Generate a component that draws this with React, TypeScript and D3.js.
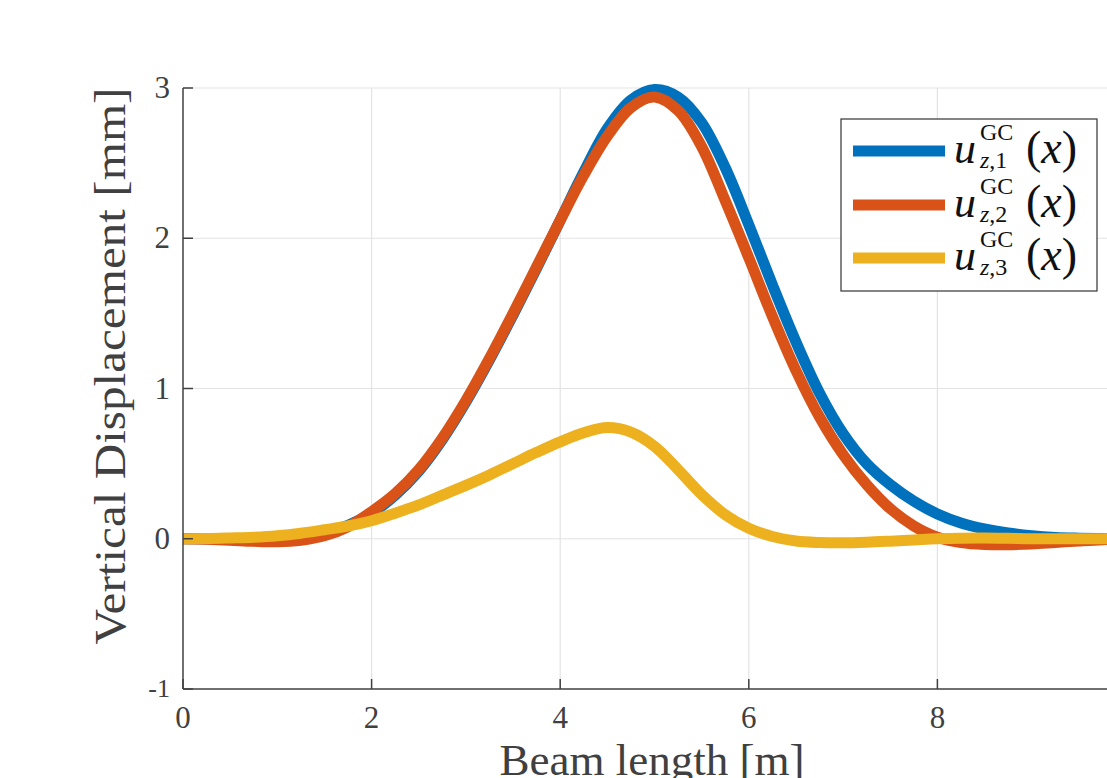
import { useMemo } from "react";
import * as d3 from "d3";

const W = 1107;
const H = 778;
const MARGIN = { top: 88, left: 183, bottom: 89 };

// beam positions [m]
const xs = [
  0, 0.25, 0.5, 0.75, 1, 1.25, 1.5, 1.75, 2, 2.25, 2.5, 2.75, 3, 3.25, 3.5, 3.75, 4, 4.25, 4.5, 4.75, 5,
  5.25, 5.5, 5.75, 6, 6.25, 6.5, 6.75, 7, 7.25, 7.5, 7.75, 8, 8.25, 8.5, 8.75, 9, 9.25, 9.5, 9.75, 10,
];

// vertical displacement [mm]
const u1 = [
  0, 0, 0, 0.001, 0.004, 0.015, 0.04, 0.09, 0.17, 0.29, 0.45, 0.66, 0.91, 1.19, 1.49, 1.8, 2.12, 2.44, 2.73, 2.92, 2.99,
  2.94, 2.77, 2.47, 2.09, 1.69, 1.31, 0.97, 0.7, 0.5, 0.36, 0.25, 0.165, 0.105, 0.065, 0.038, 0.02, 0.009, 0.004, 0.001, 0,
];
const u2 = [
  0, -0.004, -0.01, -0.017, -0.02, -0.01, 0.02, 0.08, 0.18, 0.3, 0.46, 0.67, 0.92, 1.2, 1.5, 1.81, 2.12, 2.42, 2.68, 2.87, 2.94,
  2.85, 2.61, 2.25, 1.87, 1.48, 1.12, 0.81, 0.56, 0.36, 0.2, 0.085, 0.01, -0.025, -0.038, -0.04, -0.035, -0.025, -0.015, -0.006, 0,
];
const u3 = [
  0, 0.001, 0.005, 0.01, 0.02, 0.037, 0.06, 0.085, 0.12, 0.17, 0.225, 0.29, 0.355, 0.425, 0.5, 0.575, 0.645, 0.705, 0.74, 0.71, 0.615,
  0.46, 0.295, 0.16, 0.07, 0.015, -0.015, -0.025, -0.027, -0.023, -0.016, -0.008, 0, 0.004, 0.005, 0.003, 0, 0, 0, 0, 0,
];

const series = [
  { name: "1", values: u1, color: "#0072BD" },
  { name: "2", values: u2, color: "#D95319" },
  { name: "3", values: u3, color: "#EDB120" },
];

const xTicks = [0, 2, 4, 6, 8];
const yTicks = [-1, 0, 1, 2, 3];

const FONT = "'Liberation Serif', 'DejaVu Serif', serif";
const AXIS = "#404040";
const GRID = "#e3e3e3";

const App = () => {
  const xScale = useMemo(() => d3.scaleLinear().domain([0, 10]).range([MARGIN.left, 1126]), []);
  const yScale = useMemo(() => d3.scaleLinear().domain([-1, 3]).range([H - MARGIN.bottom, MARGIN.top]), []);

  const line = d3
    .line<number>()
    .x((_, i) => xScale(xs[i]))
    .y((d) => yScale(d))
    .curve(d3.curveCatmullRom.alpha(0.5));

  const x0 = xScale(0);
  const y0 = yScale(-1);
  const yTop = yScale(3);

  const rowY = [151, 205, 258];

  return (
    <svg
      width={W}
      height={H}
      style={{ position: "absolute", left: 0, top: 0, background: "#fff" }}
      fontFamily={FONT}
    >
      <defs>
        <clipPath id="plot">
          <rect x={x0} y={yTop - 10} width={W - x0} height={y0 - yTop + 10} />
        </clipPath>
      </defs>

      {/* grid */}
      <g stroke={GRID} strokeWidth={1.2}>
        {[2, 4, 6, 8].map((t) => (
          <line key={"gx" + t} x1={xScale(t)} x2={xScale(t)} y1={yTop} y2={y0} />
        ))}
        {[0, 1, 2, 3].map((t) => (
          <line key={"gy" + t} x1={x0} x2={W} y1={yScale(t)} y2={yScale(t)} />
        ))}
      </g>

      {/* curves */}
      <g clipPath="url(#plot)" fill="none" strokeWidth={11} strokeLinejoin="round">
        {series.map((s) => (
          <path key={s.name} d={line(s.values) || ""} stroke={s.color} />
        ))}
      </g>

      {/* axes */}
      <g stroke={AXIS} strokeWidth={1.5} fill="none">
        <line x1={x0} x2={x0} y1={yTop} y2={y0} />
        <line x1={x0} x2={W} y1={y0} y2={y0} />
        {xTicks.map((t) => (
          <line key={"tx" + t} x1={xScale(t)} x2={xScale(t)} y1={y0} y2={y0 - 10} />
        ))}
        {yTicks.map((t) => (
          <line key={"ty" + t} x1={x0} x2={x0 + 10} y1={yScale(t)} y2={yScale(t)} />
        ))}
      </g>

      {/* tick labels */}
      <g fill={AXIS} fontSize={31}>
        {xTicks.map((t) => (
          <text key={"lx" + t} x={xScale(t)} y={728} textAnchor="middle">
            {t}
          </text>
        ))}
        {yTicks.map((t) =>
          t === -1 ? (
            <text key={"ly" + t} x={170} y={yScale(t) + 8} textAnchor="end" fontSize={26}>
              -1
            </text>
          ) : (
            <text key={"ly" + t} x={170} y={yScale(t) + 10} textAnchor="end">
              {t}
            </text>
          )
        )}
      </g>

      {/* axis labels */}
      <text
        x={652}
        y={775}
        textAnchor="middle"
        fontSize={44}
        fill={AXIS}
        textLength={305}
        lengthAdjust="spacingAndGlyphs"
      >
        Beam length [m]
      </text>
      <text
        transform="translate(125,366) rotate(-90)"
        textAnchor="middle"
        fontSize={44}
        fill={AXIS}
        textLength={557}
        lengthAdjust="spacingAndGlyphs"
      >
        Vertical Displacement [mm]
      </text>

      {/* legend */}
      <rect x={841} y={119} width={256} height={172} fill="#fff" stroke="#333" strokeWidth={1.2} />
      {series.map((s, i) => {
        const y = rowY[i];
        return (
          <g key={"lg" + s.name} fill="#111">
            <line x1={853} x2={945} y1={y} y2={y} stroke={s.color} strokeWidth={11} />
            <text x={954} y={y + 12} fontSize={44} fontStyle="italic">u</text>
            <text x={980} y={y - 11} fontSize={24}>GC</text>
            <text x={980} y={y + 17} fontSize={24}>
              <tspan fontStyle="italic">z</tspan>,{s.name}
            </text>
            <text x={1026} y={y + 12} fontSize={46}>
              (<tspan fontStyle="italic">x</tspan>)
            </text>
          </g>
        );
      })}
    </svg>
  );
};

export default App;
